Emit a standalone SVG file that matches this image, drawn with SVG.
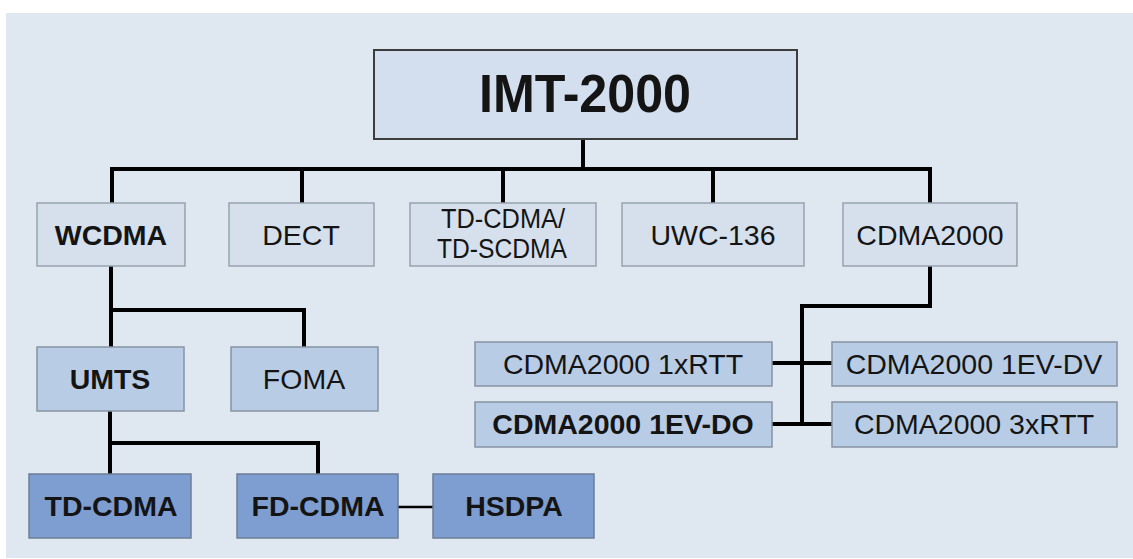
<svg xmlns="http://www.w3.org/2000/svg" width="1133" height="559" viewBox="0 0 1133 559">
<style>
  .l1 { fill: #d5e0ec; stroke: #97a2ae; stroke-width: 1.5; }
  .l2 { fill: #b8cce5; stroke: #8893a2; stroke-width: 1.5; }
  .l3 { fill: #7e9ed2; stroke: #6c7d96; stroke-width: 1.5; }
  .top { fill: #d3dfee; stroke: #3c3c3c; stroke-width: 2; }
  text { font-family: "Liberation Sans", Arial, sans-serif; fill: #141414; text-anchor: middle; font-size: 28.5px; }
  .b { font-weight: bold; }
  .conn { stroke: #000; stroke-width: 4; fill: none; stroke-linejoin: miter; }
  .thin { stroke: #000; stroke-width: 2.5; fill: none; }
</style>
<rect x="0" y="0" width="1133" height="559" fill="#ffffff"/>
<rect x="6" y="13" width="1127" height="545" fill="#dfe8f1"/>

<g id="connectors">
  <path class="conn" d="M583,139 V169"/>
  <path class="conn" d="M112,203 V169 H930 V203"/>
  <path class="conn" d="M302,169 V203 M503,169 V203 M713,169 V203"/>
  <path class="conn" d="M111,266 V348 M111,310 H304 V348"/>
  <path class="conn" d="M110,411 V474 M110,443 H318 V474"/>
  <path class="conn" d="M930,266 V306 H802 V424"/>
  <path class="conn" d="M772,363 H832 M772,424 H832"/>
  <path class="thin" d="M398,507 H433"/>
</g>

<g id="imt2000">
  <rect class="top" x="374" y="50" width="423" height="89"/>
  <text class="b" x="585" y="112" font-size="54" style="font-size:54px" textLength="212" lengthAdjust="spacingAndGlyphs">IMT-2000</text>
</g>

<g id="wcdma">
  <rect class="l1" x="37" y="203" width="148" height="63"/>
  <text class="b" x="111" y="245">WCDMA</text>
</g>
<g id="dect">
  <rect class="l1" x="229" y="203" width="145" height="63"/>
  <text x="301" y="245">DECT</text>
</g>
<g id="tdcdma-tdscdma">
  <rect class="l1" x="410" y="203" width="186" height="63"/>
  <text x="503" y="228" style="font-size:27px" textLength="124" lengthAdjust="spacingAndGlyphs">TD-CDMA/</text>
  <text x="502" y="258" style="font-size:27px" textLength="130" lengthAdjust="spacingAndGlyphs">TD-SCDMA</text>
</g>
<g id="uwc136">
  <rect class="l1" x="622" y="203" width="182" height="63"/>
  <text x="713" y="245">UWC-136</text>
</g>
<g id="cdma2000">
  <rect class="l1" x="843" y="203" width="174" height="63"/>
  <text x="930" y="245">CDMA2000</text>
</g>

<g id="umts">
  <rect class="l2" x="37" y="347" width="147" height="64"/>
  <text class="b" x="110" y="389">UMTS</text>
</g>
<g id="foma">
  <rect class="l2" x="231" y="347" width="147" height="64"/>
  <text x="304" y="389">FOMA</text>
</g>

<g id="cdma2000-1xrtt">
  <rect class="l2" x="475" y="342" width="297" height="44"/>
  <text x="623" y="374">CDMA2000 1xRTT</text>
</g>
<g id="cdma2000-1evdv">
  <rect class="l2" x="832" y="342" width="285" height="44"/>
  <text x="974" y="374">CDMA2000 1EV-DV</text>
</g>
<g id="cdma2000-1evdo">
  <rect class="l2" x="475" y="402" width="297" height="45"/>
  <text class="b" x="623" y="434">CDMA2000 1EV-DO</text>
</g>
<g id="cdma2000-3xrtt">
  <rect class="l2" x="832" y="402" width="285" height="45"/>
  <text x="974" y="434">CDMA2000 3xRTT</text>
</g>

<g id="td-cdma">
  <rect class="l3" x="29" y="474" width="162" height="64"/>
  <text class="b" x="111" y="516">TD-CDMA</text>
</g>
<g id="fd-cdma">
  <rect class="l3" x="237" y="474" width="161" height="64"/>
  <text class="b" x="318" y="516">FD-CDMA</text>
</g>
<g id="hsdpa">
  <rect class="l3" x="433" y="474" width="161" height="64"/>
  <text class="b" x="514" y="516">HSDPA</text>
</g>
</svg>
